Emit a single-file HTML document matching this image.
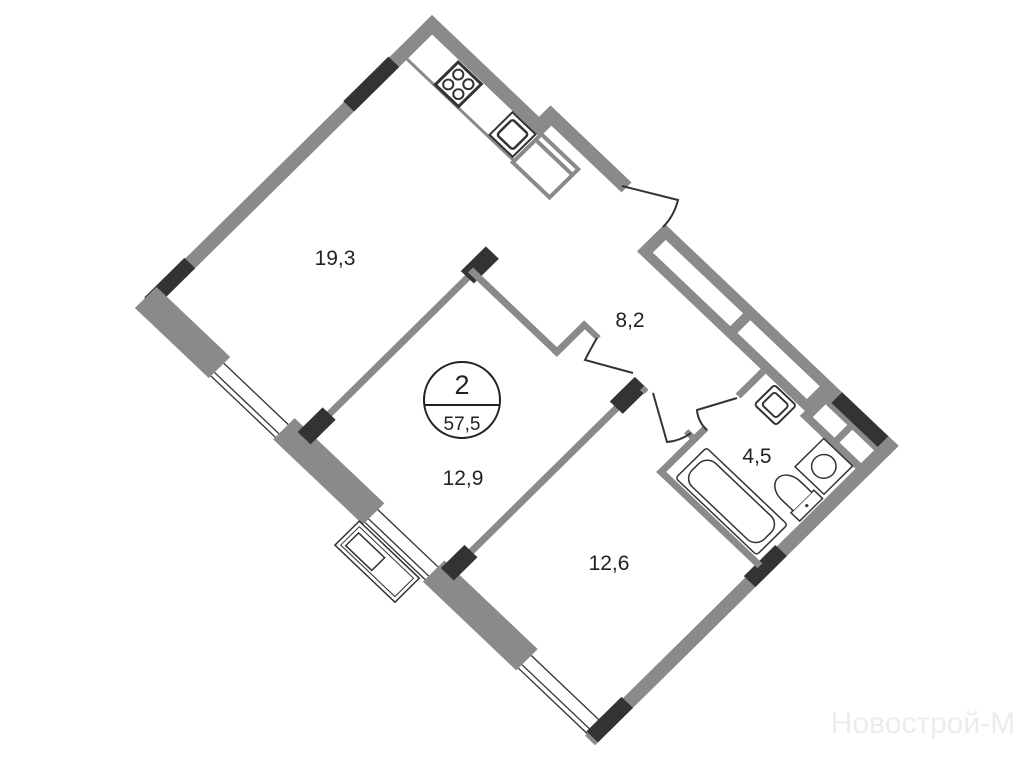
<!DOCTYPE html>
<html><head><meta charset="utf-8"><style>
html,body{margin:0;padding:0;background:#fff;}
svg{display:block;}
text{font-family:"Liberation Sans",sans-serif;fill:#222;}
</style></head><body>
<svg width="1024" height="768" viewBox="0 0 1024 768" xmlns="http://www.w3.org/2000/svg">
<rect width="1024" height="768" fill="#fff"/>
<g transform="matrix(0.7234,0.6875,0.7157,-0.7060,135,308)">
  <!-- NW wall -->
  <rect x="0" y="0" width="14" height="415" fill="#8a8a8a"/>
  <rect x="-1" y="292" width="15" height="63" fill="#333"/>
  <rect x="-1" y="14" width="15" height="56" fill="#333"/>
  <!-- NE wall -->
  <rect x="0" y="401" width="163" height="14" fill="#8a8a8a"/>
  <rect x="148" y="401" width="15" height="30" fill="#8a8a8a"/>
  <rect x="148" y="417" width="112" height="14" fill="#8a8a8a"/>
  <!-- kitchen -->
  <line x1="14" y1="366" x2="162" y2="366" stroke="#8a8a8a" stroke-width="3"/>
  <rect x="162" y="364" width="51" height="40" fill="none" stroke="#8a8a8a" stroke-width="4"/>
  <line x1="162" y1="396" x2="213" y2="396" stroke="#8a8a8a" stroke-width="4"/>
  <rect x="52" y="367" width="32" height="32" fill="#fff" stroke="#333" stroke-width="3"/>
  <circle cx="61" cy="376" r="5" fill="none" stroke="#333" stroke-width="2"/>
  <circle cx="75" cy="376" r="5" fill="none" stroke="#333" stroke-width="2"/>
  <circle cx="61" cy="390" r="5" fill="none" stroke="#333" stroke-width="2"/>
  <circle cx="75" cy="390" r="5" fill="none" stroke="#333" stroke-width="2"/>
  <rect x="126" y="368" width="32" height="32" fill="#fff" stroke="#333" stroke-width="2"/>
  <rect x="131" y="373" width="22" height="22" rx="3" fill="none" stroke="#333" stroke-width="2.5"/>
  <!-- closet -->
  <rect x="313" y="385" width="236" height="39" fill="#8a8a8a"/>
  <rect x="325" y="395" width="107" height="18" fill="#fff"/>
  <rect x="442" y="395" width="96" height="18" fill="#fff"/>
  <!-- shaft / right NE part -->
  <rect x="545" y="378" width="91" height="46" fill="#8a8a8a"/>
  <rect x="555" y="386" width="30" height="18" fill="#fff"/>
  <rect x="592" y="386" width="30" height="18" fill="#fff"/>
  <rect x="558" y="409" width="78" height="15" fill="#333"/>
  <!-- SE wall -->
  <rect x="622" y="0" width="14" height="424" fill="#8a8a8a"/>
  <rect x="620" y="4" width="16" height="49" fill="#333"/>
  <rect x="620" y="224" width="16" height="44" fill="#333"/>
  <!-- SW wall -->
  <rect x="0" y="0" width="102" height="30" fill="#8a8a8a"/>
  <rect x="191" y="0" width="124" height="30" fill="#8a8a8a"/>
  <rect x="398" y="0" width="129" height="30" fill="#8a8a8a"/>
  <g stroke="#333" stroke-width="1.3" fill="none">
    <line x1="102" y1="3" x2="191" y2="3"/><line x1="102" y1="8" x2="191" y2="8"/><line x1="102" y1="21" x2="191" y2="21"/>
    <line x1="315" y1="3" x2="398" y2="3"/><line x1="315" y1="8" x2="398" y2="8"/><line x1="315" y1="21" x2="398" y2="21"/>
    <line x1="527" y1="3" x2="622" y2="3"/><line x1="527" y1="8" x2="622" y2="8"/><line x1="527" y1="21" x2="622" y2="21"/>
  </g>
  <!-- balcony -->
  <rect x="310" y="-34" width="83" height="34" fill="#fff" stroke="#333" stroke-width="1.5"/>
  <rect x="314" y="-30" width="75" height="26" fill="none" stroke="#333" stroke-width="1"/>
  <rect x="318" y="-27" width="36" height="18" fill="none" stroke="#333" stroke-width="1.5"/>
  <!-- partitions -->
  <rect x="209" y="30" width="7" height="255" fill="#8a8a8a"/>
  <rect x="203" y="22" width="18" height="35" fill="#333"/>
  <rect x="203" y="250" width="18" height="35" fill="#333"/>
  <rect x="209" y="254" width="122" height="7" fill="#8a8a8a"/>
  <rect x="325" y="254" width="7" height="45" fill="#8a8a8a"/>
  <rect x="325" y="293" width="23" height="6" fill="#8a8a8a"/>
  <rect x="407" y="30" width="7" height="262" fill="#8a8a8a"/>
  <rect x="401" y="22" width="18" height="33" fill="#333"/>
  <rect x="401" y="258" width="18" height="35" fill="#333"/>
  <rect x="414" y="287" width="6" height="6" fill="#8a8a8a"/>
  <rect x="476" y="286" width="14" height="6" fill="#8a8a8a"/>
  <rect x="484" y="239" width="7" height="66" fill="#8a8a8a"/>
  <rect x="484" y="350" width="7" height="40" fill="#8a8a8a"/>
  <rect x="484" y="239" width="140" height="7" fill="#8a8a8a"/>
  <!-- bathroom fixtures -->
  <rect x="502" y="248" width="112" height="43" rx="3" fill="#fff" stroke="#333" stroke-width="1.5"/>
  <rect x="508" y="253" width="100" height="33" rx="12" fill="none" stroke="#333" stroke-width="1.5"/>
  <rect x="505" y="355" width="30" height="28" rx="3" fill="#fff" stroke="#333" stroke-width="2"/>
  <rect x="510" y="360" width="20" height="18" rx="3" fill="none" stroke="#333" stroke-width="2"/>
  <rect x="578" y="338" width="40" height="40" fill="#fff" stroke="#333" stroke-width="1.5"/>
  <circle cx="598" cy="358" r="12" fill="none" stroke="#333" stroke-width="1.5"/>
  <rect x="608" y="302" width="12" height="32" fill="#fff" stroke="#333" stroke-width="1.5"/>
  <path d="M608,305 L592,305 A18,13 0 0 0 592,331 L608,331" fill="#fff" stroke="#333" stroke-width="1.5"/>
  <circle cx="614" cy="318" r="1.6" fill="#333"/>
</g>
<!-- doors -->
<g fill="none" stroke="#333" stroke-width="2">
  <path d="M622,186 L678,200 Q674,216 663,227"/>
  <path d="M597,338 Q590,350 585,360 L633,373"/>
  <path d="M653,393 L667,442 Q680,441 691,433"/>
  <path d="M737,398 L697,410 Q698,422 707,430"/>
</g>
<!-- labels -->
<g font-size="21" text-anchor="middle">
  <text x="335" y="265">19,3</text>
  <text x="630" y="327">8,2</text>
  <text x="463" y="485">12,9</text>
  <text x="609" y="570">12,6</text>
  <text x="757" y="463">4,5</text>
</g>
<circle cx="462" cy="400" r="38" fill="#fff" stroke="#222" stroke-width="2"/>
<line x1="424" y1="405" x2="500" y2="405" stroke="#222" stroke-width="2"/>
<text x="462" y="394" font-size="27" text-anchor="middle">2</text>
<text x="462" y="430" font-size="19" text-anchor="middle">57,5</text>
<text x="923" y="733" font-size="30" text-anchor="middle" style="fill:#ececec">Новострой-М</text>
</svg>
</body></html>
